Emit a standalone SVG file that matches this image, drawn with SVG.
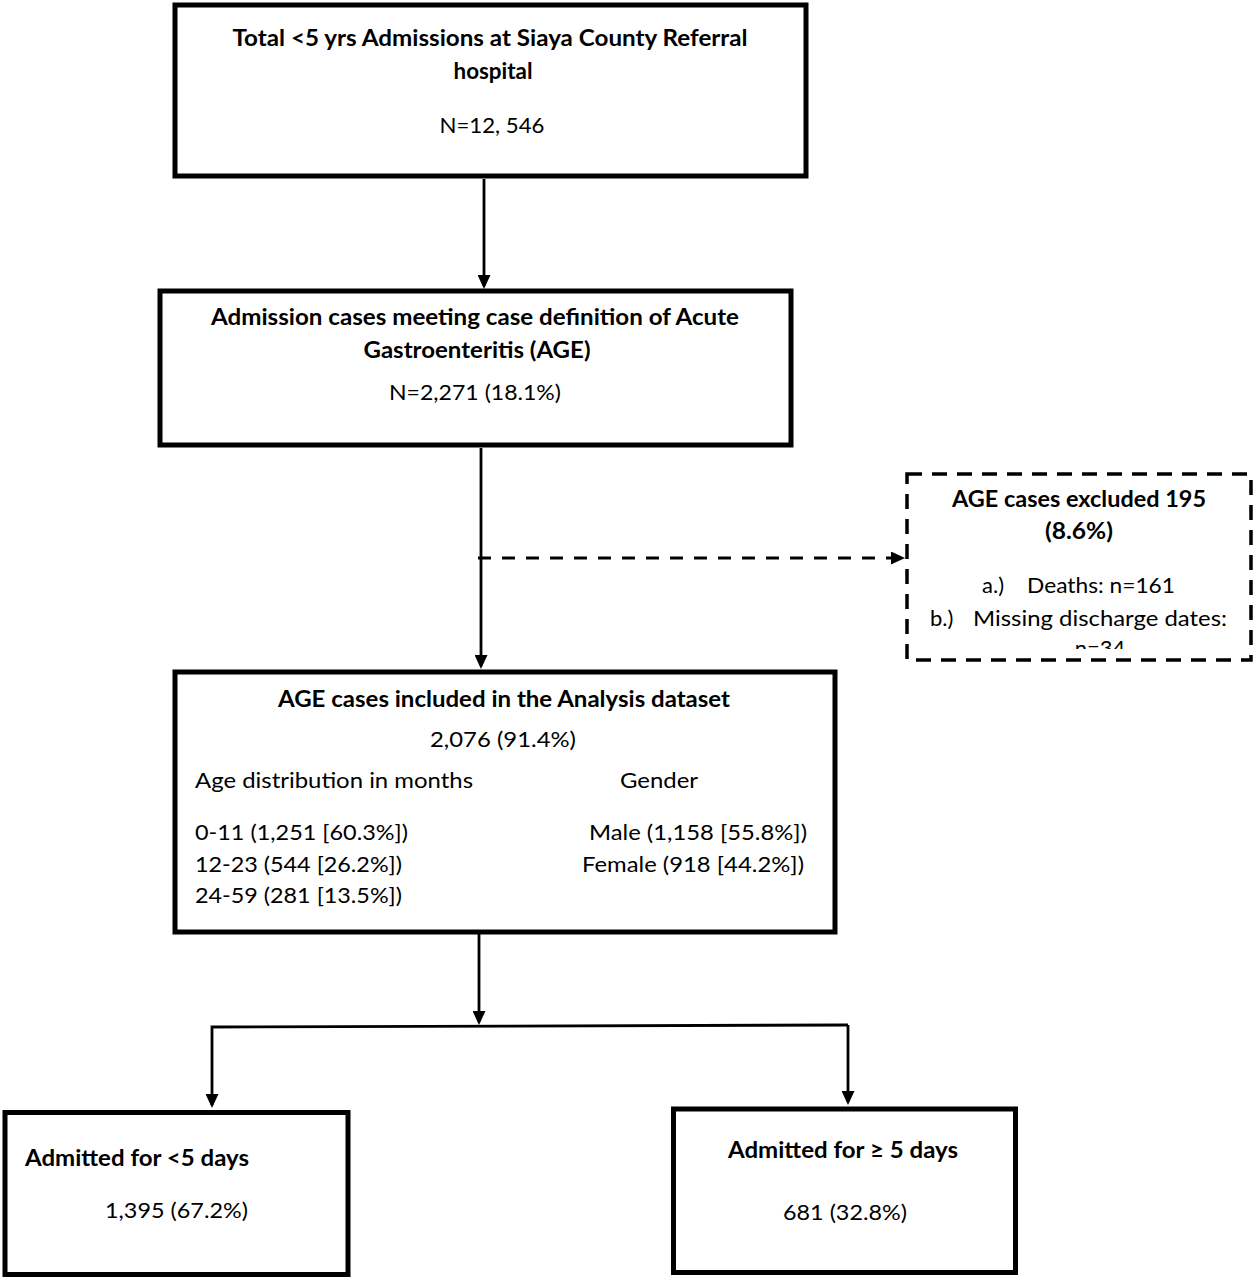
<svg xmlns="http://www.w3.org/2000/svg" width="1254" height="1280" viewBox="0 0 1254 1280">
<style>
.box{fill:#fff;stroke:#000;stroke-width:5}
.dbox{fill:#fff;stroke:#000;stroke-width:3.5;stroke-dasharray:15 10}
.ln{fill:none;stroke:#000;stroke-width:2.8}
.dl{fill:none;stroke:#000;stroke-width:3.2;stroke-dasharray:13 11}
text{font-family:Lato,"Open Sans","Liberation Sans",sans-serif;font-size:22px;fill:#000}
.b{font-weight:bold}
.c{text-anchor:middle}
</style>
<defs>
<marker id="ah" viewBox="0 0 14 13" refX="11" refY="6.5" markerWidth="14" markerHeight="13" markerUnits="userSpaceOnUse" orient="auto">
<path d="M0,0 L14,6.5 L0,13 z" fill="#000"/>
</marker>
<clipPath id="clipEx"><rect x="909" y="476" width="340" height="173"/></clipPath>
</defs>
<rect width="1254" height="1280" fill="#fff"/>
<g id="connectors">
<line class="ln" x1="484" y1="179" x2="484" y2="286" marker-end="url(#ah)"/>
<line class="ln" x1="481" y1="448" x2="481" y2="666" marker-end="url(#ah)"/>
<line class="dl" x1="478" y1="558" x2="902" y2="558" marker-end="url(#ah)"/>
<line class="ln" x1="479" y1="933" x2="479" y2="1022" marker-end="url(#ah)"/>
<polyline class="ln" points="212,1028 212,1027 848,1025"/>
<line class="ln" x1="212" y1="1028" x2="212" y2="1105" marker-end="url(#ah)"/>
<line class="ln" x1="848" y1="1025" x2="848" y2="1102" marker-end="url(#ah)"/>
</g>
<g id="node-total">
<rect class="box" x="175" y="5" width="631" height="171"/>
<text class="b c" x="490" y="46" textLength="515" lengthAdjust="spacingAndGlyphs">Total &lt;5 yrs Admissions at Siaya County Referral</text>
<text class="b c" x="493" y="79" textLength="79" lengthAdjust="spacingAndGlyphs">hospital</text>
<text class="c" x="492" y="133" textLength="105" lengthAdjust="spacingAndGlyphs">N=12, 546</text>
</g>
<g id="node-age">
<rect class="box" x="160" y="291" width="631" height="154"/>
<text class="b c" x="475" y="325" textLength="528" lengthAdjust="spacingAndGlyphs">Admission cases meeting case definition of Acute</text>
<text class="b c" x="477" y="358" textLength="227" lengthAdjust="spacingAndGlyphs">Gastroenteritis (AGE)</text>
<text class="c" x="475" y="400" textLength="172" lengthAdjust="spacingAndGlyphs">N=2,271 (18.1%)</text>
</g>
<g id="node-excluded">
<rect class="dbox" x="907" y="474" width="344" height="186"/>
<text class="b c" x="1079" y="507" textLength="254" lengthAdjust="spacingAndGlyphs">AGE cases excluded 195</text>
<text class="b c" x="1079" y="539" textLength="68" lengthAdjust="spacingAndGlyphs">(8.6%)</text>
<text y="593"><tspan x="982">a.)</tspan><tspan x="1027" textLength="148" lengthAdjust="spacingAndGlyphs">Deaths: n=161</tspan></text>
<text y="626"><tspan x="930">b.)</tspan><tspan x="973" textLength="254" lengthAdjust="spacingAndGlyphs">Missing discharge dates:</tspan></text>
<text class="c" x="1100" y="656" clip-path="url(#clipEx)">n=34</text>
</g>
<g id="node-included">
<rect class="box" x="175" y="672" width="660" height="260"/>
<text class="b c" x="504" y="707" textLength="452" lengthAdjust="spacingAndGlyphs">AGE cases included in the Analysis dataset</text>
<text class="c" x="503" y="747" textLength="146" lengthAdjust="spacingAndGlyphs">2,076 (91.4%)</text>
<text x="195" y="788" textLength="278" lengthAdjust="spacingAndGlyphs">Age distribution in months</text>
<text x="620" y="788" textLength="78" lengthAdjust="spacingAndGlyphs">Gender</text>
<text x="195" y="840" textLength="213" lengthAdjust="spacingAndGlyphs">0-11 (1,251 [60.3%])</text>
<text x="195" y="872" textLength="207" lengthAdjust="spacingAndGlyphs">12-23 (544 [26.2%])</text>
<text x="195" y="903" textLength="207" lengthAdjust="spacingAndGlyphs">24-59 (281 [13.5%])</text>
<text x="589" y="840" textLength="218" lengthAdjust="spacingAndGlyphs">Male (1,158 [55.8%])</text>
<text x="582" y="872" textLength="222" lengthAdjust="spacingAndGlyphs">Female (918 [44.2%])</text>
</g>
<g id="node-short">
<rect class="box" x="5" y="1112.5" width="343" height="162"/>
<text class="b" x="25" y="1166" textLength="224" lengthAdjust="spacingAndGlyphs">Admitted for &lt;5 days</text>
<text x="105" y="1218" textLength="143" lengthAdjust="spacingAndGlyphs">1,395 (67.2%)</text>
</g>
<g id="node-long">
<rect class="box" x="673.5" y="1109" width="342" height="163.5"/>
<text class="b c" x="843" y="1158" textLength="230" lengthAdjust="spacingAndGlyphs">Admitted for ≥ 5 days</text>
<text class="c" x="845" y="1220" textLength="124" lengthAdjust="spacingAndGlyphs">681 (32.8%)</text>
</g>
</svg>
